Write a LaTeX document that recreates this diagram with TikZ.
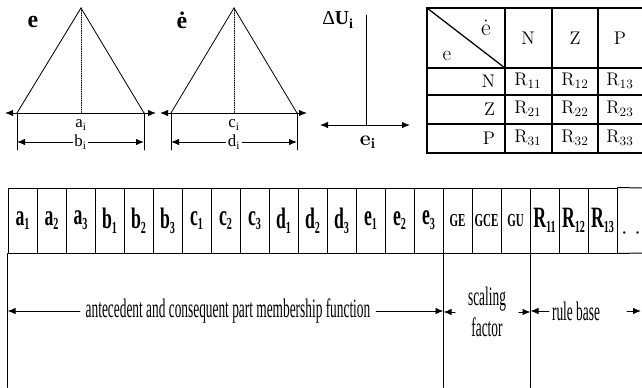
\documentclass[tikz,border=0pt]{standalone}
\usepackage{fontspec}
\newfontfamily\condfont[FakeStretch=0.6]{Liberation Serif}
\newfontfamily\narrowfont[FakeStretch=0.5]{Liberation Serif}
\newfontfamily\timesfont{Liberation Serif}
\usetikzlibrary{arrows.meta}
\newcommand\gsub[1]{\raisebox{-0.35ex}{\fontsize{12}{12}\selectfont #1}}

\begin{document}
\begin{tikzpicture}[x=0.025cm,y=-0.025cm,>={Latex[length=2mm,width=1.6mm]},line cap=round,
  mf/.style={line width=0.6pt},
  tab/.style={line width=0.9pt},
  gene/.style={draw,line width=0.7pt,minimum width=0.725cm,minimum height=1.625cm,inner sep=0pt,
    font=\fontsize{21}{21}\condfont\bfseries},
  gain/.style={gene,font=\fontsize{13}{13}\condfont\bfseries},
  note/.style={inner sep=4pt,font=\fontsize{19}{22}\narrowfont},
  small/.style={inner sep=1pt,font=\fontsize{12}{12}\timesfont},
  cellt/.style={font=\fontsize{13}{14}\selectfont}]
\useasboundingbox (0,0) rectangle (642,387);

% membership function of e
\draw[mf] (17,113) -- (81,8) -- (144,113);
\draw[mf,densely dotted] (81,8) -- (81,113);
\draw[mf,<->] (5,113) -- (156,113);
\draw[mf] (17,113) -- (17,150) (144,113) -- (144,150);
\draw[mf,<->] (17,142) -- node[small,fill=white] (bi) {b\textsubscript{i}} (144,142);
\node[small] (ai) at (81,125) {a\textsubscript{i}};
\node[font=\fontsize{17}{17}\timesfont\bfseries] (lblE) at (33,22) {e};

% membership function of de/dt
\draw[mf] (171,113) -- (234,8) -- (297,113);
\draw[mf,densely dotted] (234,8) -- (234,113);
\draw[mf,<->] (160,113) -- (307,113);
\draw[mf] (171,113) -- (171,150) (297,113) -- (297,150);
\draw[mf,<->] (171,142) -- node[small,fill=white] (di) {d\textsubscript{i}} (297,142);
\node[small] (ci) at (234,125) {c\textsubscript{i}};
\node[font=\fontsize{17}{17}\timesfont\bfseries] (lblDE) at (182,20) {ė};

% output axes
\draw[mf] (366,15) -- (366,125);
\draw[mf,<->] (320,125) -- (410,125);
\node[font=\fontsize{14}{14}\timesfont] (dU) at (338,20) {Δ\textbf{U\textsubscript{i}}};
\node[font=\fontsize{15}{15}\selectfont\bfseries] (ei) at (368,142) {e\textsubscript{i}};

% rule table
\draw[tab] (642,8) -- (427,8) -- (427,153) -- (642,153);
\foreach \y in {68,95,124} \draw[tab] (427,\y) -- (642,\y);
\foreach \x in {505,552,598} \draw[tab] (\x,8) -- (\x,153);
\draw[tab] (427,8) -- (505,68);
\node[font=\fontsize{17}{17}\selectfont] (hDE) at (486,28) {ė};
\node[font=\fontsize{15}{15}\selectfont] (hE) at (447,56) {e};
\foreach \c/\x in {N/528,Z/575,P/620} \node[cellt] (col\c) at (\x,38) {\c};
\foreach \r/\y [count=\i] in {N/81,Z/109,P/138} {
  \node[cellt,anchor=east] (row\r) at (500,\y) {\r};
  \foreach \x [count=\j] in {528,575,620}
    \node[cellt] (R\i\j) at (\x,\y) {R\textsubscript{\i\j}};
}

% chromosome
\foreach \l/\s [count=\k from 0] in {a/1,a/2,a/3,b/1,b/2,b/3,c/1,c/2,c/3,d/1,d/2,d/3,e/1,e/2,e/3}
  \node[gene] (g\k) at ({22.5+29*\k},220.5) {\l\gsub{\s}};
\foreach \l [count=\k from 15] in {GE,GCE,GU}
  \node[gain] (g\k) at ({22.5+29*\k},220.5) {\l};
\foreach \s [count=\k from 18] in {11,12,13}
  \node[gene] (g\k) at ({22.5+29*\k},220.5) {R\gsub{\s}};
\draw[line width=0.7pt] (g20.north east) -- (642,188) (g20.south east) -- (642,253);
\node[font=\fontsize{14}{14}\timesfont] (more) at (631,236) {·\,\,·};

% parts of the chromosome
\draw[mf] (g0.south west) -- ++(0,134);
\draw[mf] (g14.south east) -- ++(0,134);
\draw[mf] (g17.south east) -- ++(0,134);
\node[note] (amf) at (228,311) {antecedent and consequent part membership function};
\draw[mf,->] (amf) -- (amf -| g0.south west);
\draw[mf,->] (amf) -- (amf -| g14.south east);
\node[note,align=center,inner xsep=9pt] (sf) at (487,312) {scaling\\factor};
\draw[mf,->] (sf) -- (sf -| g14.south east);
\draw[mf,->] (sf) -- (sf -| g17.south east);
\node[note,inner sep=2pt] (rb) at (576,311) {rule base};
\draw[mf,->] (rb) -- (rb -| g17.south east);
\coordinate (rbtail) at (627,311);
\coordinate (rbtip) at (641,311);
\draw[mf,->] (rbtail) -- (rbtip);
\end{tikzpicture}
\end{document}
